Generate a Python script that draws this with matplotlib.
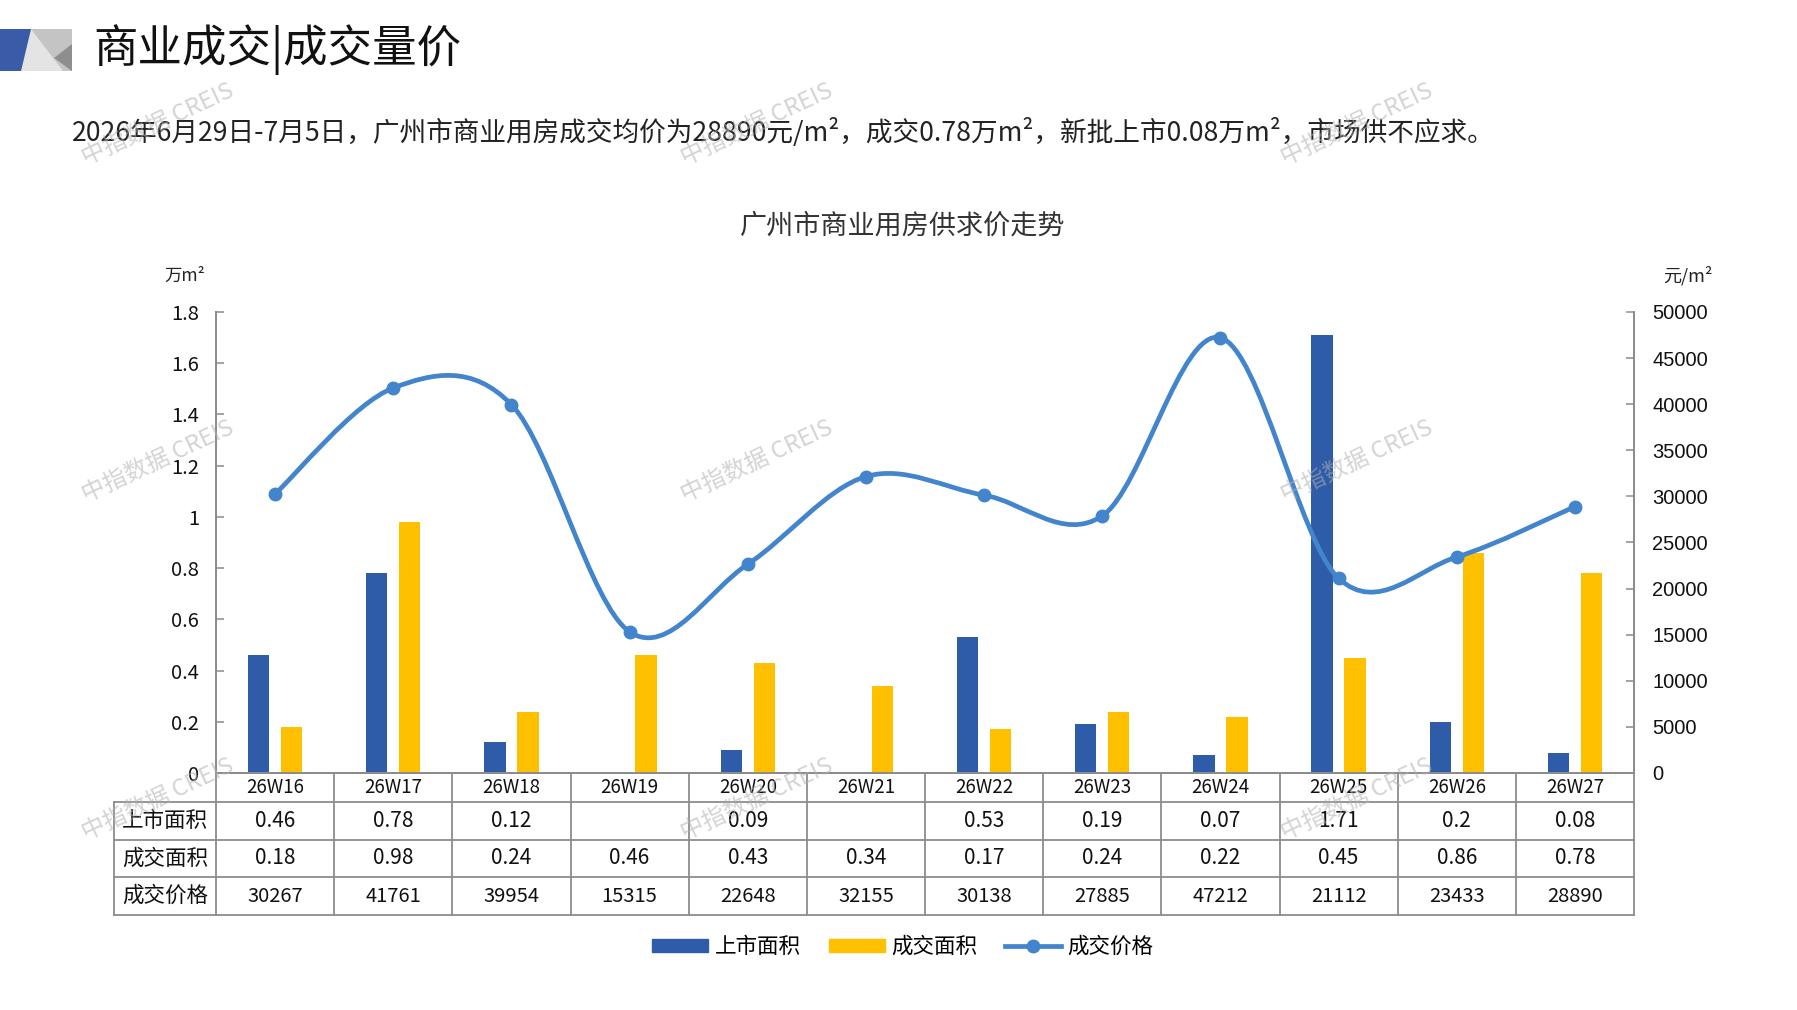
import numpy as np
import matplotlib.pyplot as plt
from matplotlib.path import Path
from matplotlib.patches import PathPatch, Polygon, Patch
from matplotlib.lines import Line2D

plt.rcParams['font.family'] = ['Noto Sans CJK SC', 'DejaVu Sans']

# ---- data ----
weeks = ['26W16', '26W17', '26W18', '26W19', '26W20', '26W21',
         '26W22', '26W23', '26W24', '26W25', '26W26', '26W27']
supply = [0.46, 0.78, 0.12, None, 0.09, None, 0.53, 0.19, 0.07, 1.71, 0.2, 0.08]
deal = [0.18, 0.98, 0.24, 0.46, 0.43, 0.34, 0.17, 0.24, 0.22, 0.45, 0.86, 0.78]
price = [30267, 41761, 39954, 15315, 22648, 32155, 30138, 27885, 47212, 21112, 23433, 28890]

row_names = ['上市面积', '成交面积', '成交价格']
left_ticks = [0, 0.2, 0.4, 0.6, 0.8, 1, 1.2, 1.4, 1.6, 1.8]
right_ticks = list(range(0, 50001, 5000))

BLUE = '#2E5CA8'
YELLOW = '#FFC000'
LINE = '#4285CD'
GRID = '#8C8C8C'

W, H = 1797, 1010


def fx(px):
    return px / W


def fy(py):
    return 1 - py / H


def smooth_path(xs, ys):
    # catmull-rom style bezier, like the office "smoothed line"
    pts = np.column_stack([xs, ys]).astype(float)
    n = len(pts)
    verts = [pts[0]]
    codes = [Path.MOVETO]
    for i in range(n - 1):
        p0 = pts[i - 1] if i > 0 else pts[i]
        p1 = pts[i]
        p2 = pts[i + 1]
        p3 = pts[i + 2] if i + 2 < n else pts[i + 1]
        verts += [p1 + (p2 - p0) / 6, p2 - (p3 - p1) / 6, p2]
        codes += [Path.CURVE4] * 3
    return Path(verts, codes)


fig = plt.figure(figsize=(W / 100, H / 100), dpi=100)

# ---- header logo ----
logo = fig.add_axes([0, fy(71), fx(72), (71 - 29) / H])
logo.set_xlim(0, 72)
logo.set_ylim(71, 29)
logo.axis('off')
logo.add_patch(Polygon([(0, 29), (72, 29), (72, 71), (0, 71)], color='#C4C4C4', lw=0))
logo.add_patch(Polygon([(31, 29), (63, 71), (21, 71)], color='#E4E4E4', lw=0))
logo.add_patch(Polygon([(72, 44), (72, 71), (54, 58)], color='#8E8E8E', lw=0))
logo.add_patch(Polygon([(0, 29), (31, 29), (21, 71), (0, 71)], color='#3A5CA8', lw=0))

fig.text(fx(93), fy(50), '商业成交|成交量价', fontsize=32, va='center', ha='left', color='#111111')
fig.text(fx(72), fy(132),
         '2026年6月29日-7月5日，广州市商业用房成交均价为28890元/m²，成交0.78万m²，'
         '新批上市0.08万m²，市场供不应求。',
         fontsize=19.2, va='center', ha='left', color='#222222')
fig.text(fx(903), fy(226), '广州市商业用房供求价走势', fontsize=19.5, va='center', ha='center',
         color='#333333')
fig.text(fx(164), fy(276), '万m²', fontsize=12.5, va='center', ha='left', color='#222222')
fig.text(fx(1663), fy(276), '元/m²', fontsize=13, va='center', ha='left', color='#222222')

# ---- main chart ----
x = np.arange(len(weeks))
supply_h = [v if v is not None else 0 for v in supply]

ax = fig.add_axes([fx(216), fy(773), fx(1634 - 216), (773 - 312) / H])
ax.bar(x - 0.14, supply_h, 0.18, color=BLUE, zorder=2)
ax.bar(x + 0.14, deal, 0.18, color=YELLOW, zorder=2)
ax.set_xlim(-0.5, len(weeks) - 0.5)
ax.set_ylim(0, 1.8)
ax.set_xticks([])
ax.set_yticks(left_ticks)
ax.set_yticklabels([f'{v:g}' for v in left_ticks])
ax.tick_params(axis='y', direction='in', length=6, width=1.1, color=GRID,
               labelsize=14.5, pad=12, labelcolor='#111111')

ax2 = ax.twinx()
ax2.set_ylim(0, 50000)
ax2.set_yticks(right_ticks)
ax2.set_yticklabels([str(v) for v in right_ticks], family=['Liberation Sans', 'DejaVu Sans'])
ax2.tick_params(axis='y', direction='in', length=6, width=1.1, color=GRID,
                labelsize=14.5, pad=13, labelcolor='#111111')
ax2.add_patch(PathPatch(smooth_path(x, price), facecolor='none', edgecolor=LINE,
                        lw=3.4, capstyle='round', zorder=3))
ax2.plot(x, price, 'o', color=LINE, markersize=9, zorder=4)

for a in (ax, ax2):
    a.spines['top'].set_visible(False)
    for s in ('left', 'right', 'bottom'):
        a.spines[s].set_color(GRID)
        a.spines[s].set_linewidth(1.3)

# ---- data table under the chart ----
x_left = -0.5 - (216 - 114) / ((1634 - 216) / len(weeks))
tab = fig.add_axes([fx(114), fy(915), fx(1634 - 114), (915 - 773) / H])
tab.set_xlim(x_left, len(weeks) - 0.5)
tab.set_ylim(142, 0)
tab.axis('off')
row_edges = [0, 29, 67, 104, 142]
tab.plot([-0.5, len(weeks) - 0.5], [0, 0], color=GRID, lw=1.3, clip_on=False)
for yy in row_edges[1:]:
    tab.plot([x_left, len(weeks) - 0.5], [yy, yy], color=GRID, lw=1.3, clip_on=False)
tab.plot([x_left, x_left], [row_edges[1], row_edges[-1]], color=GRID, lw=1.3, clip_on=False)
for k in range(len(weeks) + 1):
    tab.plot([k - 0.5, k - 0.5], [0, row_edges[-1]], color=GRID, lw=1.3, clip_on=False)

centers = [(row_edges[i] + row_edges[i + 1]) / 2 for i in range(4)]
for i, w in enumerate(weeks):
    tab.text(i, centers[0], w, ha='center', va='center', fontsize=13.5, color='#111111')
    if supply[i] is not None:
        tab.text(i, centers[1], str(supply[i]), ha='center', va='center', fontsize=15, color='#111111')
    tab.text(i, centers[2], str(deal[i]), ha='center', va='center', fontsize=15, color='#111111')
    tab.text(i, centers[3], str(price[i]), ha='center', va='center', fontsize=14.5, color='#111111')
for r, name in enumerate(row_names):
    tab.text((x_left - 0.5) / 2, centers[r + 1], name, ha='center', va='center',
             fontsize=15.5, color='#111111')

# ---- legend ----
handles = [Patch(color=BLUE), Patch(color=YELLOW),
           Line2D([], [], color=LINE, lw=3.4, marker='o', markersize=9)]
fig.legend(handles, ['上市面积', '成交面积', '成交价格'], loc='center',
           bbox_to_anchor=(fx(903), fy(947)), ncol=3, frameon=False, fontsize=15.5,
           handlelength=2.6, handleheight=0.6, handletextpad=0.3, columnspacing=1.3)

# ---- watermarks ----
for wx in (158, 757, 1357):
    for wy in (124, 461, 799):
        fig.text(fx(wx), fy(wy), '中指数据 CREIS', rotation=25, ha='center', va='center',
                 fontsize=17, color='#B0B0B0', alpha=0.55, zorder=10)

fig.savefig('out.png', dpi=100)
